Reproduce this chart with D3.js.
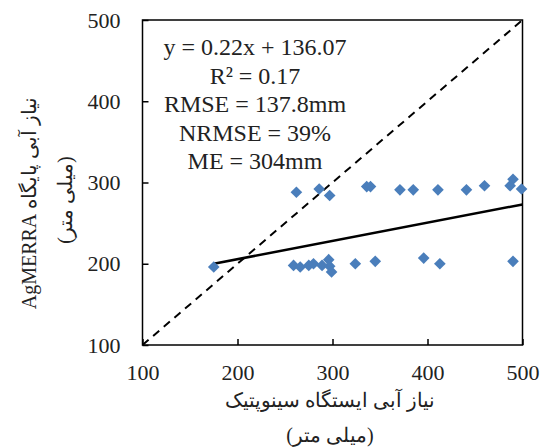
<!DOCTYPE html>
<html><head><meta charset="utf-8">
<script src="https://cdn.jsdelivr.net/npm/d3@7"></script>
<style>body{margin:0;background:#fff}svg{display:block}</style>
</head><body>
<svg id="c" width="540" height="448"></svg>
<script>
const xVals = [262,286,297,336,340,371,385,411,441,460,490,487,499,
               175,259,266,275,280,289,296,297,299,324,345,396,413,490];
const yVals = [288,292,284,295,295,291,291,291,291,296,304,296,292,
               196,198,196,198,200,198,205,197,190,200,203,207,200,203];
const trendX = [175,500];
const trendY = [200,273];
const oneToOne = [100,500];
const xTicks = [100,200,300,400,500];
const yTicks = [100,200,300,400,500];
const statLines = ["y = 0.22x + 136.07","R² = 0.17","RMSE = 137.8mm","NRMSE = 39%","ME = 304mm"];
const xTitle = ["نیاز آبی ایستگاه سینوپتیک","(میلی متر)"];
const yTitle = ["نیاز آبی پایگاه AgMERRA","(میلی متر)"];

const svg = d3.select("#c");
const L=142.5,R=522.5,T=20,B=345;
const x = d3.scaleLinear().domain([100,500]).range([L,R]);
const y = d3.scaleLinear().domain([100,500]).range([B,T]);
const serif = "'Liberation Serif','Times New Roman','DejaVu Serif',serif";

// frame
svg.append("rect").attr("x",L).attr("y",T).attr("width",R-L).attr("height",B-T)
  .attr("fill","none").attr("stroke","#000").attr("stroke-width",1.5);

// axes with inward ticks
const xa = svg.append("g").attr("transform",`translate(0,${B})`)
  .call(d3.axisBottom(x).tickValues(xTicks).tickSizeInner(-6).tickSizeOuter(0).tickPadding(16));
const ya = svg.append("g").attr("transform",`translate(${L},0)`)
  .call(d3.axisLeft(y).tickValues(yTicks).tickSizeInner(-6).tickSizeOuter(0).tickPadding(22));
[xa,ya].forEach(g=>{
  g.select(".domain").remove();
  g.selectAll("line").attr("stroke","#000").attr("stroke-width",1.5);
  g.selectAll("text").attr("font-family",serif).attr("font-size",22).attr("fill","#222");
});
xa.selectAll("text").attr("dy","0.85em");

// 1:1 dashed line
svg.append("line").attr("x1",x(oneToOne[0])).attr("y1",y(oneToOne[0]))
  .attr("x2",x(oneToOne[1])).attr("y2",y(oneToOne[1]))
  .attr("stroke","#000").attr("stroke-width",2).attr("stroke-dasharray","8,6");

// trend line
svg.append("line").attr("x1",x(trendX[0])).attr("y1",y(trendY[0]))
  .attr("x2",x(trendX[1])).attr("y2",y(trendY[1]))
  .attr("stroke","#000").attr("stroke-width",2.5);

// points
const sym = d3.symbol().type(d3.symbolSquare).size(68);
svg.append("g").selectAll("path").data(xVals.map((v,i)=>[v,yVals[i]])).join("path")
  .attr("d",sym).attr("fill","#4a7ebb")
  .attr("transform",d=>`translate(${x(d[0])},${y(d[1])}) rotate(45)`);

// stats text
const st = svg.append("g");
statLines.forEach((t,i)=>{
  st.append("text").attr("x",255).attr("y",55+i*28.6).attr("text-anchor","middle")
    .attr("font-family",serif).attr("font-size",24).attr("fill","#222").text(t);
});

// x title
xTitle.forEach((t,i)=>{
  svg.append("text").attr("x",330).attr("y",[407,442][i]).attr("text-anchor","middle")
    .attr("direction","rtl").attr("font-family",serif).attr("font-size",20).attr("fill","#222").text(t);
});
// y title
yTitle.forEach((t,i)=>{
  svg.append("text").attr("transform",`translate(${[36,72][i]},${[203,200][i]}) rotate(-90)`)
    .attr("text-anchor","middle").attr("direction","rtl")
    .attr("font-family",serif).attr("font-size",20).attr("fill","#222").text(t);
});
</script>
</body></html>
